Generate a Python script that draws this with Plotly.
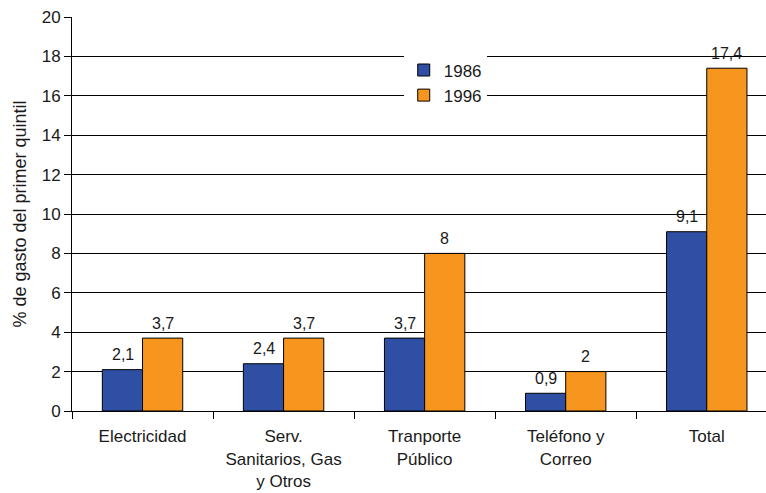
import plotly.graph_objects as go

categories = ["Electricidad", "Serv.<br>Sanitarios, Gas<br>y Otros", "Tranporte<br>Público",
              "Teléfono y<br>Correo", "Total"]
values_1986 = [2.1, 2.4, 3.7, 0.9, 9.1]
values_1996 = [3.7, 3.7, 8, 2, 17.4]
y_ticks = list(range(0, 21, 2))


def fmt(v):
    return f"{v:g}".replace(".", ",")


font_family = "Liberation Sans, Arial, sans-serif"
text_color = "#1a1a1a"
series = [("1986", values_1986, "#2E4FA3", -20), ("1996", values_1996, "#F7961E", 20)]

fig = go.Figure()
for name, vals, color, _ in series:
    fig.add_trace(go.Bar(
        name=name, x=categories, y=vals,
        marker=dict(color=color, line=dict(color="#000000", width=1)),
    ))

# value labels above each bar
for name, vals, color, shift in series:
    for cat, v in zip(categories, vals):
        fig.add_annotation(
            x=cat, y=v, text=fmt(v), showarrow=False,
            xshift=shift, yshift=15, yanchor="middle",
            font=dict(size=16, color=text_color),
        )

fig.update_layout(
    width=766, height=493,
    margin=dict(l=72, r=0, t=17, b=82),
    paper_bgcolor="white", plot_bgcolor="white",
    font=dict(family=font_family, size=17, color=text_color),
    barmode="group", bargap=0.43, bargroupgap=0,
    showlegend=True,
    legend=dict(
        x=0.478, y=0.91, xanchor="left", yanchor="top",
        bgcolor="white", borderwidth=0,
        font=dict(size=17, color=text_color),
        tracegroupgap=4, itemwidth=30,
    ),
    xaxis=dict(
        range=[-0.5, 4.42], tickson="boundaries", ticks="outside", ticklen=7,
        tickcolor="#000000", showline=True, linecolor="#000000", linewidth=1,
        showgrid=False, tickfont=dict(size=17), ticklabelstandoff=10,
    ),
    yaxis=dict(
        range=[0, 20], tickvals=y_ticks, ticks="outside", ticklen=7,
        tickcolor="#000000", showline=True, linecolor="#000000", linewidth=1,
        showgrid=True, gridcolor="#000000", gridwidth=1, zeroline=False,
        tickfont=dict(size=17),
        title=dict(text="% de gasto del primer quintil", font=dict(size=18), standoff=10),
    ),
)

fig.write_html("out.html")
